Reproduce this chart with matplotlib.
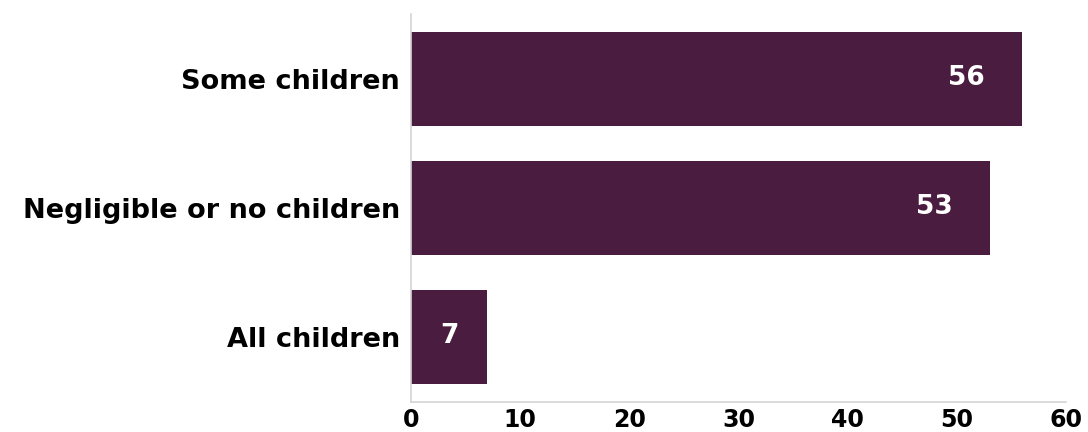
import matplotlib
matplotlib.use("Agg")
import matplotlib.pyplot as plt

# data
categories = ["Some children", "Negligible or no children", "All children"]
values = [56, 53, 7]
xticks = [0, 10, 20, 30, 40, 50, 60]

plt.rcParams['font.family'] = ['DejaVu Sans']

fig = plt.figure(figsize=(10.88, 4.32), dpi=100)
ax = fig.add_axes([0.3778, 0.0694, 0.6020, 0.8982])

y = range(len(categories))
ax.barh(y, values, height=0.73, color='#4a1c40')

# value labels inside the bars
for i, v in enumerate(values):
    xpos = max(v - 5.1, v / 2)
    ax.text(xpos, i - 0.01, str(v), ha='center', va='center', color='white',
            fontsize=19, fontweight='bold')

ax.set_ylim(2.504, -0.504)
ax.set_xlim(0, 60)
ax.set_yticks(list(y))
ax.set_yticklabels(categories, fontsize=19.5, fontweight='bold', color='black')
ax.set_xticks(xticks)
ax.set_xticklabels([str(t) for t in xticks], fontsize=17, fontweight='bold')
ax.tick_params(axis='both', length=0)
ax.tick_params(axis='y', pad=8)
ax.tick_params(axis='x', pad=4)

for s in ['top', 'right']:
    ax.spines[s].set_visible(False)
for s in ['left', 'bottom']:
    ax.spines[s].set_color('#d4d4d4')
    ax.spines[s].set_linewidth(1.2)

plt.savefig("out.png", dpi=100)
